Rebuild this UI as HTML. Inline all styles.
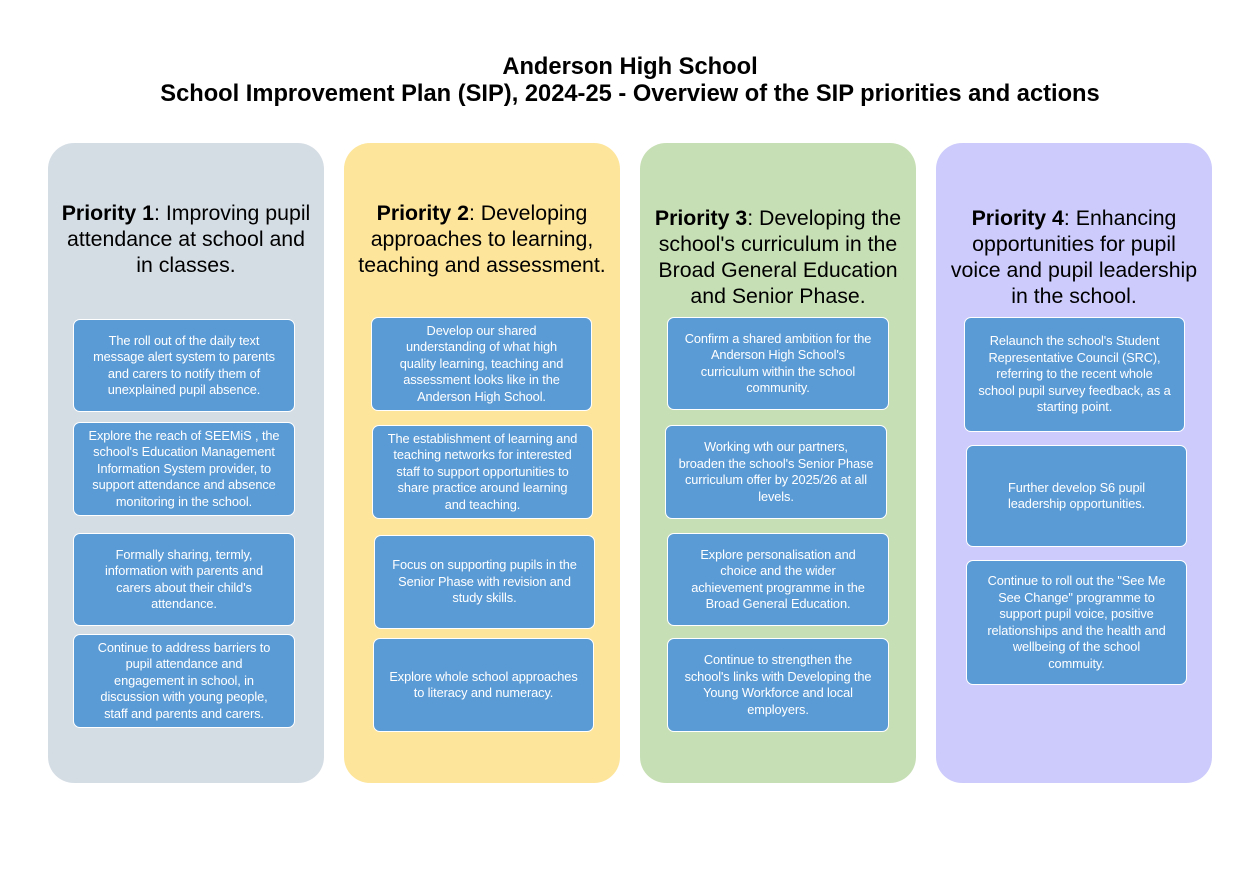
<!DOCTYPE html>
<html><head><meta charset="utf-8"><style>
body{margin:0;width:1260px;height:891px;background:#fff;position:relative;font-family:"Liberation Sans",sans-serif;overflow:hidden}
.t{position:absolute;left:0;width:1260px;text-align:center;font-weight:bold;font-size:23.7px;color:#000;white-space:nowrap}
.col{position:absolute;top:143px;width:276px;height:640px;border-radius:26px}
.h{position:absolute;width:276px;text-align:center;font-size:21.3px;line-height:26px;color:#000;white-space:nowrap}
.b{position:absolute;box-sizing:border-box;background:#5b9bd5;border:1.5px solid #fff;border-radius:7px;color:#fff;font-size:12.8px;line-height:16.5px;text-align:center;display:flex;align-items:center;justify-content:center;white-space:nowrap;letter-spacing:-0.1px}
</style></head><body>
<div class="t" style="top:54px">Anderson High School</div>
<div class="t" style="top:81px">School Improvement Plan (SIP), 2024-25 - Overview of the SIP priorities and actions</div>

<div class="col" style="left:48px;background:#d5dde4"></div>
<div class="col" style="left:344px;background:#fde59b"></div>
<div class="col" style="left:640px;background:#c7dfb5"></div>
<div class="col" style="left:936px;background:#cccbfb"></div>

<div class="h" style="left:48px;top:200px"><b>Priority 1</b>: Improving pupil<br>attendance at school and<br>in classes.</div>
<div class="h" style="left:344px;top:200px"><b>Priority 2</b>: Developing<br>approaches to learning,<br>teaching and assessment.</div>
<div class="h" style="left:640px;top:205px"><b>Priority 3</b>: Developing the<br>school's curriculum in the<br>Broad General Education<br>and Senior Phase.</div>
<div class="h" style="left:936px;top:205px"><b>Priority 4</b>: Enhancing<br>opportunities for pupil<br>voice and pupil leadership<br>in the school.</div>

<div class="b" style="left:73px;top:319px;width:222px;height:93px">The roll out of the daily text<br>message alert system to parents<br>and carers to notify them of<br>unexplained pupil absence.</div>
<div class="b" style="left:73px;top:422px;width:222px;height:94px">Explore the reach of SEEMiS , the<br>school's Education Management<br>Information System provider, to<br>support attendance and absence<br>monitoring in the school.</div>
<div class="b" style="left:73px;top:533px;width:222px;height:93px">Formally sharing, termly,<br>information with parents and<br>carers about their child's<br>attendance.</div>
<div class="b" style="left:73px;top:634px;width:222px;height:94px">Continue to address barriers to<br>pupil attendance and<br>engagement in school, in<br>discussion with young people,<br>staff and parents and carers.</div>

<div class="b" style="left:371px;top:317px;width:221px;height:94px">Develop our shared<br>understanding of what high<br>quality learning, teaching and<br>assessment looks like in the<br>Anderson High School.</div>
<div class="b" style="left:372px;top:425px;width:221px;height:94px">The establishment of learning and<br>teaching networks for interested<br>staff to support opportunities to<br>share practice around learning<br>and teaching.</div>
<div class="b" style="left:374px;top:535px;width:221px;height:94px">Focus on supporting pupils in the<br>Senior Phase with revision and<br>study skills.</div>
<div class="b" style="left:373px;top:638px;width:221px;height:94px">Explore whole school approaches<br>to literacy and numeracy.</div>

<div class="b" style="left:667px;top:317px;width:222px;height:93px">Confirm a shared ambition for the<br>Anderson High School's<br>curriculum within the school<br>community.</div>
<div class="b" style="left:665px;top:425px;width:222px;height:94px">Working wth our partners,<br>broaden the school's Senior Phase<br>curriculum offer by 2025/26 at all<br>levels.</div>
<div class="b" style="left:667px;top:533px;width:222px;height:93px">Explore personalisation and<br>choice and the wider<br>achievement programme in the<br>Broad General Education.</div>
<div class="b" style="left:667px;top:638px;width:222px;height:94px">Continue to strengthen the<br>school's links with Developing the<br>Young Workforce and local<br>employers.</div>

<div class="b" style="left:964px;top:317px;width:221px;height:115px">Relaunch the school's Student<br>Representative Council (SRC),<br>referring to the recent whole<br>school pupil survey feedback, as a<br>starting point.</div>
<div class="b" style="left:966px;top:445px;width:221px;height:102px">Further develop S6 pupil<br>leadership opportunities.</div>
<div class="b" style="left:966px;top:560px;width:221px;height:125px">Continue to roll out the "See Me<br>See Change" programme to<br>support pupil voice, positive<br>relationships and the health and<br>wellbeing of the school<br>commuity.</div>
</body></html>
